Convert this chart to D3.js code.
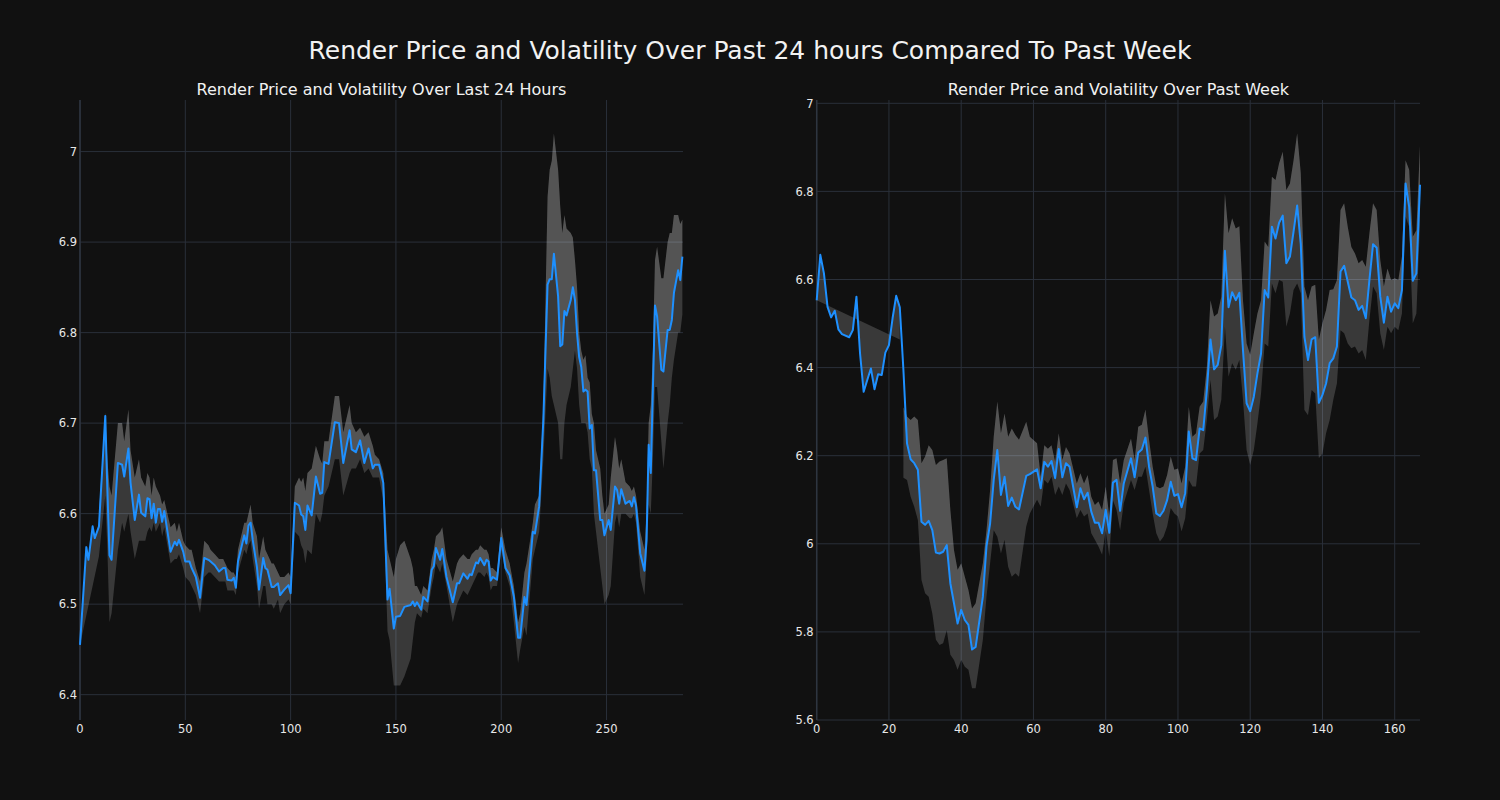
<!DOCTYPE html>
<html><head><meta charset="utf-8">
<script src="https://cdn.jsdelivr.net/npm/d3@7"></script>
<style>html,body{margin:0;background:#111111;} svg{display:block;font-family:"DejaVu Sans",sans-serif;}</style>
</head><body>
<svg id="c" width="1500" height="800"></svg>
<script>
// ---------- Last 24 hours (5-minute steps) ----------
const dayIdx = [0,3,4,6,7,9,12,13,14,15,18,20,21,23,24,26,28,29,31,32,33,34,35,36,37,38,39,40,43,45,46,47,49,50,52,53,55,57,59,61,62,64,66,68,69,70,72,73,74,75,78,79,80,81,82,84,85,87,88,89,91,92,94,95,97,99,100,102,104,105,106,107,108,110,112,114,115,116,118,121,123,125,128,129,131,133,135,137,139,140,142,144,146,147,149,150,152,154,157,158,159,160,162,163,165,167,168,169,171,172,174,177,179,180,182,184,185,186,188,189,190,192,193,194,195,196,198,200,202,204,206,208,209,211,212,215,216,218,220,222,223,224,225,227,228,229,230,231,233,234,235,236,237,238,239,240,241,242,243,244,245,247,248,249,251,252,254,255,256,257,259,261,262,263,264,265,266,268,269,270,271,272,273,274,276,277,279,280,281,282,284,285,286];
const dayPrice = [6.455,6.563,6.549,6.586,6.573,6.586,6.708,6.626,6.554,6.549,6.656,6.654,6.641,6.672,6.634,6.593,6.621,6.601,6.597,6.617,6.616,6.595,6.611,6.590,6.605,6.605,6.591,6.603,6.558,6.569,6.565,6.571,6.558,6.547,6.547,6.540,6.530,6.507,6.551,6.549,6.547,6.543,6.536,6.540,6.540,6.527,6.526,6.529,6.518,6.547,6.576,6.567,6.587,6.590,6.571,6.541,6.516,6.551,6.540,6.538,6.519,6.519,6.523,6.510,6.516,6.521,6.512,6.612,6.609,6.599,6.597,6.582,6.609,6.598,6.641,6.622,6.623,6.657,6.655,6.701,6.700,6.656,6.692,6.671,6.668,6.681,6.656,6.672,6.650,6.654,6.654,6.634,6.505,6.517,6.473,6.486,6.487,6.497,6.499,6.503,6.498,6.502,6.494,6.508,6.503,6.538,6.542,6.562,6.549,6.561,6.530,6.502,6.523,6.523,6.534,6.528,6.533,6.532,6.546,6.545,6.551,6.543,6.549,6.547,6.526,6.530,6.527,6.573,6.540,6.532,6.508,6.463,6.463,6.508,6.499,6.580,6.578,6.608,6.704,6.853,6.859,6.859,6.887,6.840,6.785,6.787,6.824,6.819,6.836,6.850,6.836,6.799,6.773,6.762,6.735,6.737,6.735,6.694,6.698,6.648,6.648,6.593,6.593,6.576,6.593,6.582,6.630,6.626,6.611,6.627,6.611,6.614,6.608,6.618,6.609,6.582,6.556,6.537,6.571,6.676,6.645,6.737,6.830,6.818,6.759,6.757,6.803,6.803,6.814,6.844,6.869,6.858,6.884];
const dayUpper = [null,null,null,null,null,6.600,6.712,6.66,6.63,6.62,6.70,6.70,6.68,6.715,6.67,6.64,6.66,6.64,6.63,6.645,6.64,6.62,6.64,6.63,6.625,6.62,6.61,6.615,6.585,6.59,6.58,6.59,6.57,6.565,6.56,6.56,6.54,6.525,6.57,6.565,6.56,6.555,6.55,6.55,6.545,6.54,6.535,6.535,6.53,6.56,6.59,6.59,6.60,6.61,6.59,6.575,6.55,6.575,6.56,6.555,6.545,6.545,6.535,6.53,6.53,6.535,6.53,6.63,6.64,6.635,6.64,6.625,6.645,6.65,6.675,6.66,6.655,6.68,6.68,6.73,6.73,6.69,6.72,6.70,6.69,6.695,6.685,6.69,6.675,6.665,6.66,6.645,6.56,6.55,6.53,6.55,6.565,6.57,6.55,6.54,6.52,6.52,6.51,6.52,6.515,6.55,6.56,6.575,6.58,6.585,6.55,6.525,6.545,6.55,6.555,6.55,6.55,6.555,6.56,6.56,6.565,6.56,6.56,6.555,6.54,6.54,6.535,6.585,6.56,6.545,6.52,6.48,6.49,6.535,6.545,6.59,6.61,6.62,6.72,6.95,6.98,6.99,7.02,6.98,6.94,6.91,6.93,6.915,6.91,6.905,6.88,6.85,6.80,6.78,6.77,6.775,6.75,6.745,6.71,6.70,6.67,6.65,6.62,6.60,6.61,6.64,6.685,6.67,6.65,6.66,6.635,6.63,6.625,6.63,6.62,6.60,6.58,6.56,6.60,6.70,6.72,6.78,6.88,6.895,6.86,6.86,6.90,6.91,6.91,6.93,6.93,6.92,6.925];
const dayLower = [null,null,null,null,null,6.553,6.62,6.56,6.48,6.49,6.56,6.59,6.58,6.60,6.58,6.55,6.57,6.57,6.57,6.58,6.585,6.58,6.59,6.58,6.585,6.59,6.575,6.585,6.545,6.55,6.55,6.555,6.54,6.53,6.525,6.52,6.51,6.49,6.53,6.535,6.535,6.53,6.525,6.525,6.525,6.515,6.515,6.515,6.51,6.535,6.56,6.555,6.565,6.57,6.55,6.52,6.495,6.52,6.52,6.50,6.50,6.495,6.505,6.49,6.50,6.505,6.50,6.58,6.575,6.565,6.56,6.545,6.56,6.555,6.60,6.59,6.60,6.62,6.63,6.66,6.66,6.62,6.645,6.65,6.65,6.66,6.645,6.65,6.64,6.64,6.64,6.615,6.47,6.46,6.41,6.41,6.41,6.42,6.44,6.46,6.48,6.49,6.485,6.495,6.49,6.52,6.53,6.545,6.535,6.545,6.52,6.48,6.50,6.505,6.515,6.51,6.515,6.52,6.53,6.535,6.535,6.53,6.535,6.53,6.515,6.52,6.52,6.56,6.535,6.52,6.48,6.435,6.45,6.475,6.465,6.55,6.56,6.58,6.66,6.76,6.75,6.73,6.72,6.70,6.66,6.66,6.70,6.72,6.74,6.76,6.78,6.76,6.72,6.70,6.70,6.70,6.69,6.66,6.65,6.60,6.58,6.54,6.52,6.50,6.51,6.52,6.59,6.60,6.585,6.60,6.60,6.595,6.595,6.60,6.59,6.56,6.53,6.51,6.55,6.61,6.60,6.66,6.74,6.74,6.68,6.65,6.70,6.72,6.75,6.77,6.80,6.80,6.82];
const dayEdgeIdx = [0, 9];
const dayEdgeVal = [6.455, 6.553];
const dayXTicks = [0, 50, 100, 150, 200, 250];
const dayYTicks = [6.4, 6.5, 6.6, 6.7, 6.8, 6.9, 7];

// ---------- Past week (hourly steps) ----------
const weekIdx = [0,1,2,3,4,5,6,7,9,10,11,12,13,14,15,16,17,18,19,20,21,22,23,24,25,26,27,28,29,30,31,32,33,34,35,36,37,38,39,40,41,42,43,44,46,47,48,49,50,51,52,53,54,55,56,58,59,61,62,63,64,65,66,67,68,69,70,72,73,74,75,76,77,78,79,80,81,82,83,84,85,87,88,89,90,91,92,93,94,95,96,97,98,99,100,101,102,103,104,105,106,107,108,109,110,111,112,113,114,115,116,117,118,119,120,121,122,123,124,125,126,127,128,129,130,131,132,133,134,135,136,137,138,139,140,141,142,143,144,145,146,147,148,149,150,151,152,153,154,155,156,157,158,159,160,161,162,163,164,165,166,167];
const weekPrice = [6.553,6.656,6.614,6.538,6.514,6.529,6.487,6.476,6.469,6.485,6.561,6.432,6.345,6.372,6.398,6.351,6.385,6.383,6.434,6.451,6.512,6.563,6.537,6.395,6.228,6.192,6.183,6.168,6.050,6.043,6.052,6.031,5.980,5.978,5.982,5.997,5.910,5.865,5.819,5.850,5.827,5.816,5.760,5.766,5.880,5.994,6.046,6.145,6.213,6.111,6.152,6.086,6.105,6.084,6.078,6.154,6.158,6.169,6.126,6.186,6.175,6.188,6.149,6.215,6.151,6.183,6.175,6.083,6.126,6.101,6.116,6.073,6.048,6.048,6.024,6.077,6.025,6.139,6.145,6.075,6.137,6.194,6.151,6.207,6.214,6.241,6.175,6.130,6.069,6.063,6.075,6.099,6.141,6.109,6.113,6.083,6.115,6.255,6.194,6.190,6.262,6.258,6.349,6.464,6.396,6.406,6.451,6.665,6.537,6.571,6.553,6.570,6.440,6.319,6.301,6.334,6.387,6.432,6.576,6.559,6.720,6.693,6.729,6.745,6.637,6.652,6.709,6.768,6.680,6.470,6.417,6.464,6.469,6.320,6.338,6.364,6.410,6.421,6.448,6.618,6.631,6.595,6.559,6.553,6.531,6.540,6.512,6.599,6.680,6.672,6.561,6.502,6.561,6.527,6.546,6.535,6.576,6.818,6.765,6.597,6.614,6.815];
const weekUpper = [null,null,null,null,null,null,null,null,null,null,null,null,null,null,null,null,null,null,null,null,null,null,null,6.31,6.289,6.281,6.289,6.281,6.183,6.198,6.224,6.213,6.179,6.187,6.190,6.194,6.077,5.986,5.941,5.956,5.925,5.895,5.853,5.865,5.956,6.031,6.122,6.243,6.323,6.251,6.296,6.243,6.262,6.247,6.236,6.277,6.243,6.228,6.152,6.224,6.216,6.224,6.186,6.251,6.190,6.220,6.205,6.137,6.160,6.137,6.156,6.107,6.088,6.096,6.077,6.130,6.062,6.190,6.194,6.137,6.190,6.239,6.190,6.266,6.270,6.305,6.236,6.175,6.130,6.126,6.130,6.156,6.198,6.168,6.171,6.137,6.175,6.311,6.243,6.251,6.311,6.323,6.402,6.553,6.516,6.523,6.561,6.796,6.705,6.739,6.716,6.721,6.553,6.455,6.429,6.478,6.523,6.553,6.686,6.674,6.833,6.826,6.864,6.890,6.803,6.818,6.871,6.932,6.841,6.584,6.553,6.584,6.588,6.463,6.501,6.531,6.576,6.578,6.599,6.758,6.773,6.720,6.674,6.659,6.637,6.644,6.629,6.705,6.773,6.758,6.644,6.584,6.625,6.599,6.603,6.599,6.652,6.871,6.849,6.697,6.712,6.905];
const weekLower = [null,null,null,null,null,null,null,null,null,null,null,null,null,null,null,null,null,null,null,null,null,null,null,6.15,6.145,6.107,6.084,6.054,5.918,5.888,5.880,5.842,5.782,5.770,5.774,5.804,5.748,5.736,5.714,5.736,5.721,5.714,5.672,5.672,5.782,5.880,5.956,6.031,6.016,5.978,6.009,5.948,5.925,5.933,5.925,6.039,6.069,6.100,6.084,6.145,6.137,6.152,6.111,6.130,6.111,6.137,6.122,6.058,6.077,6.062,6.069,6.024,6.009,5.994,5.975,6.031,5.971,6.099,6.077,6.031,6.092,6.145,6.122,6.152,6.152,6.175,6.122,6.069,6.024,6.005,6.016,6.039,6.081,6.069,6.062,6.028,6.058,6.145,6.130,6.130,6.205,6.213,6.281,6.372,6.281,6.289,6.327,6.493,6.379,6.410,6.395,6.417,6.327,6.213,6.179,6.213,6.273,6.341,6.455,6.448,6.591,6.569,6.599,6.595,6.493,6.523,6.576,6.591,6.569,6.304,6.292,6.349,6.341,6.194,6.205,6.251,6.281,6.327,6.364,6.485,6.478,6.455,6.444,6.448,6.432,6.440,6.417,6.508,6.584,6.569,6.478,6.440,6.493,6.478,6.493,6.485,6.523,6.743,6.720,6.500,6.523,6.720];
const weekEdgeIdx = [0, 23];
const weekEdgeVal = [6.553, 6.464];
const weekXTicks = [0, 20, 40, 60, 80, 100, 120, 140, 160];
const weekYTicks = [5.6, 5.8, 6, 6.2, 6.4, 6.6, 6.8, 7];

const mainTitle = "Render Price and Volatility Over Past 24 hours Compared To Past Week";
const dayTitle = "Render Price and Volatility Over Last 24 Hours";
const weekTitle = "Render Price and Volatility Over Past Week";

// ---------- drawing ----------
const svg = d3.select("#c");
svg.append("rect").attr("width", 1500).attr("height", 800).attr("fill", "#111111");
svg.append("text").attr("x", 750).attr("y", 59).attr("text-anchor", "middle")
  .attr("fill", "#f2f2f2").attr("font-size", 25).text(mainTitle);

function panel(o) {
  const g = svg.append("g");
  const x = d3.scaleLinear().domain(o.xDomain).range([o.left, o.right]);
  const y = d3.scaleLinear().domain(o.yDomain).range([o.bottom, o.top]);
  const gridColor = "#2a303a";
  g.selectAll(".vg").data(o.xTicks).join("line")
    .attr("x1", d => x(d)).attr("x2", d => x(d)).attr("y1", o.top).attr("y2", o.bottom)
    .attr("stroke", gridColor).attr("stroke-width", 1);
  g.selectAll(".hg").data(o.yTicks).join("line")
    .attr("x1", o.left).attr("x2", o.right).attr("y1", d => y(d)).attr("y2", d => y(d))
    .attr("stroke", gridColor).attr("stroke-width", 1);
  g.append("line").attr("x1", o.left).attr("x2", o.left).attr("y1", o.top).attr("y2", o.bottom)
    .attr("stroke", "#2e3540").attr("stroke-width", 1.5);

  const pts = o.idx.map((d, i) => ({i: d, p: o.price[i], u: o.upper[i], l: o.lower[i]}));
  const band = pts.filter(d => d.u != null);
  const startPts = pts.filter(d => d.i <= o.edgeIdx[1]).map(d => [d.i, d.p])
    .concat([[o.edgeIdx[1], o.edgeVal[1]], [o.edgeIdx[0], o.edgeVal[0]]]);
  g.append("path").datum(startPts)
    .attr("d", d3.line().x(d => x(d[0])).y(d => y(d[1])))
    .attr("fill", "rgba(255,255,255,0.17)");
  g.append("path").datum(band)
    .attr("d", d3.area().x(d => x(d.i)).y0(d => y(d.l)).y1(d => y(d.u)))
    .attr("fill", "rgba(255,255,255,0.17)");
  g.append("path").datum(band)
    .attr("d", d3.area().x(d => x(d.i)).y0(d => y(Math.max(d.l, Math.min(d.p, d.u)))).y1(d => y(d.u)))
    .attr("fill", "rgba(255,255,255,0.14)");
  g.append("path").datum(pts)
    .attr("d", d3.line().x(d => x(d.i)).y(d => y(d.p)))
    .attr("fill", "none").attr("stroke", "#1e90ff").attr("stroke-width", 2)
    .attr("stroke-linejoin", "round");
  const fmt = d3.format("~g");
  g.selectAll(".xl").data(o.xTicks).join("text")
    .attr("x", d => x(d)).attr("y", o.bottom + 12.5).attr("text-anchor", "middle")
    .attr("fill", "#e8e8e8").attr("font-size", 11.5).text(d => fmt(d));
  g.selectAll(".yl").data(o.yTicks).join("text")
    .attr("x", o.left - 3).attr("y", d => y(d) + 4.2).attr("text-anchor", "end")
    .attr("fill", "#e8e8e8").attr("font-size", 11.5).text(d => fmt(d));
  g.append("text").attr("x", (o.left + o.right) / 2).attr("y", o.top - 5)
    .attr("text-anchor", "middle").attr("fill", "#f2f2f2").attr("font-size", 16).text(o.title);
}

panel({left: 80, right: 683, top: 100, bottom: 720, xDomain: [0, 286.3], yDomain: [6.372, 7.057],
  idx: dayIdx, price: dayPrice, upper: dayUpper, lower: dayLower, edgeIdx: dayEdgeIdx, edgeVal: dayEdgeVal,
  xTicks: dayXTicks, yTicks: dayYTicks, title: dayTitle});
panel({left: 816.7, right: 1420, top: 100, bottom: 720, xDomain: [0, 167], yDomain: [5.6, 7.0075],
  idx: weekIdx, price: weekPrice, upper: weekUpper, lower: weekLower, edgeIdx: weekEdgeIdx, edgeVal: weekEdgeVal,
  xTicks: weekXTicks, yTicks: weekYTicks, title: weekTitle});
</script>
</body></html>
